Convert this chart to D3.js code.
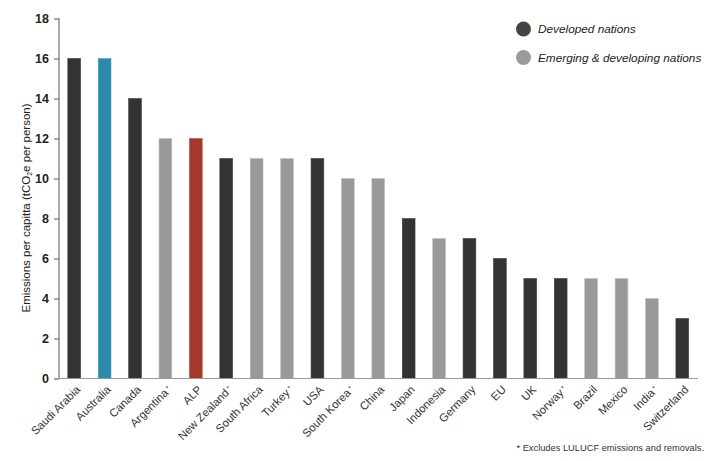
<!DOCTYPE html>
<html><head><meta charset="utf-8">
<script src="https://cdn.jsdelivr.net/npm/d3@7/dist/d3.min.js"></script>
<style>body{margin:0;background:#fff}svg{display:block}</style>
</head><body><svg id="c" width="720" height="461"></svg>
<script>
const categories = ["Saudi Arabia","Australia","Canada","Argentina","ALP","New Zealand","South Africa","Turkey","USA","South Korea","China","Japan","Indonesia","Germany","EU","UK","Norway","Brazil","Mexico","India","Switzerland"];
const values = [16,16,14,12,12,11,11,11,11,10,10,8,7,7,6,5,5,5,5,4,3];
const groups = ["dev","aus","dev","emg","alp","dev","emg","emg","dev","emg","emg","dev","emg","dev","dev","dev","dev","emg","emg","emg","dev"];
const starred = ["Argentina","New Zealand","Turkey","South Korea","Norway","India"];
const yTicks = [0,2,4,6,8,10,12,14,16,18];
const legendLabels = ["Developed nations","Emerging & developing nations"];
const colors = {dev:"#333333", emg:"#999999", aus:"#2e88a8", alp:"#a3392d"};

const svg = d3.select("#c");
const x = d3.scaleBand().domain(categories).range([59, 697.5]).paddingInner(0.58).paddingOuter(0.29);
const y = d3.scaleLinear().domain([0,18]).range([378.5, 18.5]);

// bars
svg.append("g").selectAll("rect").data(categories).join("rect")
  .attr("x", d => x(d)).attr("width", x.bandwidth())
  .attr("y", (d,i) => y(values[i])).attr("height", (d,i) => y(0) - y(values[i]))
  .attr("fill", (d,i) => colors[groups[i]])
  .attr("stroke", (d,i) => d3.color(colors[groups[i]]).brighter(0.6))
  .attr("stroke-width", 0.6);

// y axis
const ya = svg.append("g").attr("transform","translate(59,0)")
  .call(d3.axisLeft(y).tickValues(yTicks).tickSize(5).tickPadding(5));
ya.select(".domain").attr("stroke","#555").attr("d","M0,18.5V378.5");
ya.selectAll(".tick line").attr("stroke","#555");
ya.selectAll("text").attr("font-family","Liberation Sans, Arial, sans-serif")
  .attr("font-size","12.5px").attr("font-weight","bold").attr("fill","#222");

// x axis
const xa = svg.append("g").attr("transform","translate(0,378.5)")
  .call(d3.axisBottom(x).tickSize(0).tickPadding(0));
xa.select(".domain").attr("stroke","#999").attr("stroke-width",1.2).attr("d","M55,0H698");
xa.selectAll(".tick text").remove();
xa.selectAll(".tick").append("text")
  .attr("transform","translate(4,9) rotate(-45)")
  .attr("text-anchor","end")
  .attr("dy","0.35em")
  .attr("font-family","Liberation Sans, Arial, sans-serif")
  .attr("font-size","11.3px").attr("fill","#333")
  .each(function(d){
    const t = d3.select(this);
    t.append("tspan").text(d);
    if (starred.includes(d)) {
      t.append("tspan").text(" *").attr("font-size","7px").attr("dy","-0.35em");
    }
  });

// y label
const yl = svg.append("text")
  .attr("transform","translate(30,208) rotate(-90)")
  .attr("text-anchor","middle")
  .attr("font-family","Liberation Sans, Arial, sans-serif")
  .attr("font-size","11.5px").attr("fill","#222");
yl.append("tspan").text("Emissions per capitta (tCO");
yl.append("tspan").text("2").attr("font-size","7px").attr("dy","2");
yl.append("tspan").text("e per person)").attr("dy","-2");

// legend
const lg = svg.append("g");
legendLabels.forEach((l,i) => {
  lg.append("circle").attr("cx",523.5).attr("cy",29 + i*28.5).attr("r",7.5).attr("fill", i===0 ? "#444" : "#9a9a9a");
  lg.append("text").attr("x",538).attr("y",29 + i*28.5).attr("dy","0.35em")
    .attr("font-family","Liberation Sans, Arial, sans-serif").attr("font-style","italic")
    .attr("font-size","11.8px").attr("fill","#222").text(l);
});

// footnote
svg.append("text").attr("x",704).attr("y",451).attr("text-anchor","end")
  .attr("font-family","Liberation Sans, Arial, sans-serif").attr("font-size","9.3px").attr("fill","#333")
  .text("* Excludes LULUCF emissions and removals.");
</script></body></html>
